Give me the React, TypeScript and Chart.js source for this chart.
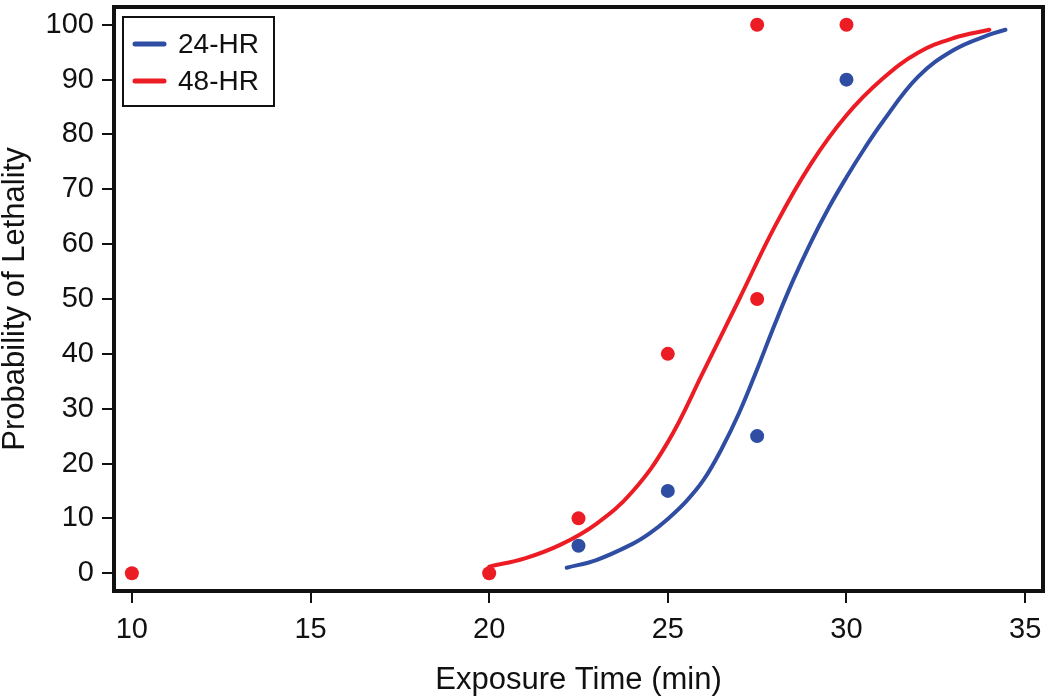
import React, { useEffect, useRef } from 'react';
import { Chart, registerables } from 'chart.js';

Chart.register(...registerables);

// ---- data ----
const X_TICKS = [10, 15, 20, 25, 30, 35];
const Y_TICKS = [0, 10, 20, 30, 40, 50, 60, 70, 80, 90, 100];

const SERIES_LABELS = ['24-HR', '48-HR'];

// observed points
const HR24_X = [22.5, 25, 27.5, 30];
const HR24_Y = [5, 15, 25, 90];
const HR48_X = [10, 20, 22.5, 25, 27.5, 27.5, 30];
const HR48_Y = [0, 0, 10, 40, 50, 100, 100];

// fitted curves
const HR24_CURVE_X = [22.17, 23, 24, 24.5, 25, 25.5, 26, 26.5, 27, 27.5, 28, 28.5, 29, 29.5, 30, 30.5, 31, 32, 33, 34, 34.45];
const HR24_CURVE_Y = [1.0, 2.4, 5.3, 7.3, 9.9, 13.0, 17.0, 22.6, 29.3, 37.2, 45.5, 53.3, 60.3, 66.6, 72.2, 77.4, 82.2, 90.5, 95.4, 98.2, 99.1];
const HR48_CURVE_X = [20, 21, 22, 23, 24, 25, 26, 27, 28, 29, 30, 31, 32, 33, 34];
const HR48_CURVE_Y = [1.2, 2.7, 5.2, 9.0, 14.8, 23.9, 36.8, 50.0, 63.3, 74.6, 83.5, 90.1, 94.9, 97.6, 99.1];

const BLUE = '#2F4DA2';
const RED = '#EC1C24';
const INK = '#111111';
const FONT = '"Liberation Sans", Arial, Helvetica, sans-serif';

const zip = (xs: number[], ys: number[]) => xs.map((x, i) => ({ x, y: ys[i] }));

const framePlugin = {
  id: 'frameAndLegend',
  afterDraw(chart: any) {
    const { ctx, chartArea: a } = chart;
    ctx.save();
    ctx.strokeStyle = INK;
    ctx.lineWidth = 4;
    ctx.strokeRect(a.left, a.top, a.right - a.left, a.bottom - a.top);

    // legend box inside plot area
    const lx = a.left + 9;
    const ly = a.top + 10;
    const lw = 151;
    const lh = 89;
    ctx.fillStyle = '#ffffff';
    ctx.fillRect(lx, ly, lw, lh);
    ctx.lineWidth = 2;
    ctx.strokeStyle = INK;
    ctx.strokeRect(lx, ly, lw, lh);

    const entries = [
      { label: SERIES_LABELS[0], color: BLUE },
      { label: SERIES_LABELS[1], color: RED },
    ];
    entries.forEach((e, i) => {
      const cy = ly + 27 + i * 37;
      ctx.strokeStyle = e.color;
      ctx.lineWidth = 5;
      ctx.lineCap = 'round';
      ctx.beginPath();
      ctx.moveTo(lx + 12, cy);
      ctx.lineTo(lx + 41, cy);
      ctx.stroke();
      ctx.fillStyle = INK;
      ctx.font = `28px ${FONT}`;
      ctx.textBaseline = 'middle';
      ctx.textAlign = 'left';
      ctx.fillText(e.label, lx + 55, cy + 1);
    });
    ctx.restore();
  },
};

export default function App() {
  const ref = useRef<HTMLCanvasElement | null>(null);

  useEffect(() => {
    document.body.style.margin = '0';
    const canvas = ref.current;
    if (!canvas) return;
    const chart = new Chart(canvas, {
      type: 'scatter',
      data: {
        datasets: [
          {
            label: SERIES_LABELS[1] + ' data',
            data: zip(HR48_X, HR48_Y),
            pointRadius: 7,
            pointBorderWidth: 0,
            pointBackgroundColor: RED,
            backgroundColor: RED,
            showLine: false,
            order: 0,
          },
          {
            label: SERIES_LABELS[0] + ' data',
            data: zip(HR24_X, HR24_Y),
            pointRadius: 7,
            pointBorderWidth: 0,
            pointBackgroundColor: BLUE,
            backgroundColor: BLUE,
            showLine: false,
            order: 1,
          },
          {
            label: SERIES_LABELS[1],
            data: zip(HR48_CURVE_X, HR48_CURVE_Y),
            showLine: true,
            pointRadius: 0,
            borderColor: RED,
            borderWidth: 4,
            borderCapStyle: 'round',
            tension: 0.4,
            order: 2,
          },
          {
            label: SERIES_LABELS[0],
            data: zip(HR24_CURVE_X, HR24_CURVE_Y),
            showLine: true,
            pointRadius: 0,
            borderColor: BLUE,
            borderWidth: 4,
            borderCapStyle: 'round',
            tension: 0.4,
            order: 3,
          },
        ],
      },
      options: {
        animation: false,
        responsive: false,
        layout: { padding: { top: 2, right: 4, bottom: 0, left: 0 } },
        plugins: {
          legend: { display: false },
          tooltip: { enabled: false },
        },
        scales: {
          x: {
            type: 'linear',
            min: 9.5,
            max: 35.5,
            afterBuildTicks: (s: any) => {
              s.ticks = X_TICKS.map((v) => ({ value: v }));
            },
            afterFit: (s: any) => {
              s.height = 106;
              s.paddingLeft = 0;
              s.paddingRight = 0;
            },
            border: { display: false },
            grid: {
              display: true,
              drawOnChartArea: false,
              drawTicks: true,
              tickLength: 12,
              color: INK,
              lineWidth: 2,
            },
            ticks: {
              font: { family: FONT, size: 29 },
              color: INK,
              padding: 10,
              maxRotation: 0,
              autoSkip: false,
            },
            title: {
              display: true,
              text: 'Exposure Time (min)',
              font: { family: FONT, size: 31, lineHeight: 1 },
              color: INK,
              padding: { top: 0, bottom: 1 },
            },
          },
          y: {
            type: 'linear',
            min: -3.25,
            max: 103.25,
            afterBuildTicks: (s: any) => {
              s.ticks = Y_TICKS.map((v) => ({ value: v }));
            },
            afterFit: (s: any) => {
              s.width = 114;
              s.paddingTop = 0;
              s.paddingBottom = 0;
            },
            border: { display: false },
            grid: {
              display: true,
              drawOnChartArea: false,
              drawTicks: true,
              tickLength: 12,
              color: INK,
              lineWidth: 2,
            },
            ticks: {
              font: { family: FONT, size: 29 },
              color: INK,
              padding: 8,
              autoSkip: false,
            },
            title: {
              display: true,
              text: 'Probability of Lethality',
              font: { family: FONT, size: 31, lineHeight: 1 },
              color: INK,
              padding: { top: 0, bottom: 0 },
            },
          },
        },
      },
      plugins: [framePlugin],
    } as any);
    return () => chart.destroy();
  }, []);

  return (
    <div style={{ position: 'absolute', left: 0, top: 0, width: 1050, height: 697 }}>
      <canvas ref={ref} width={1050} height={697} />
    </div>
  );
}
